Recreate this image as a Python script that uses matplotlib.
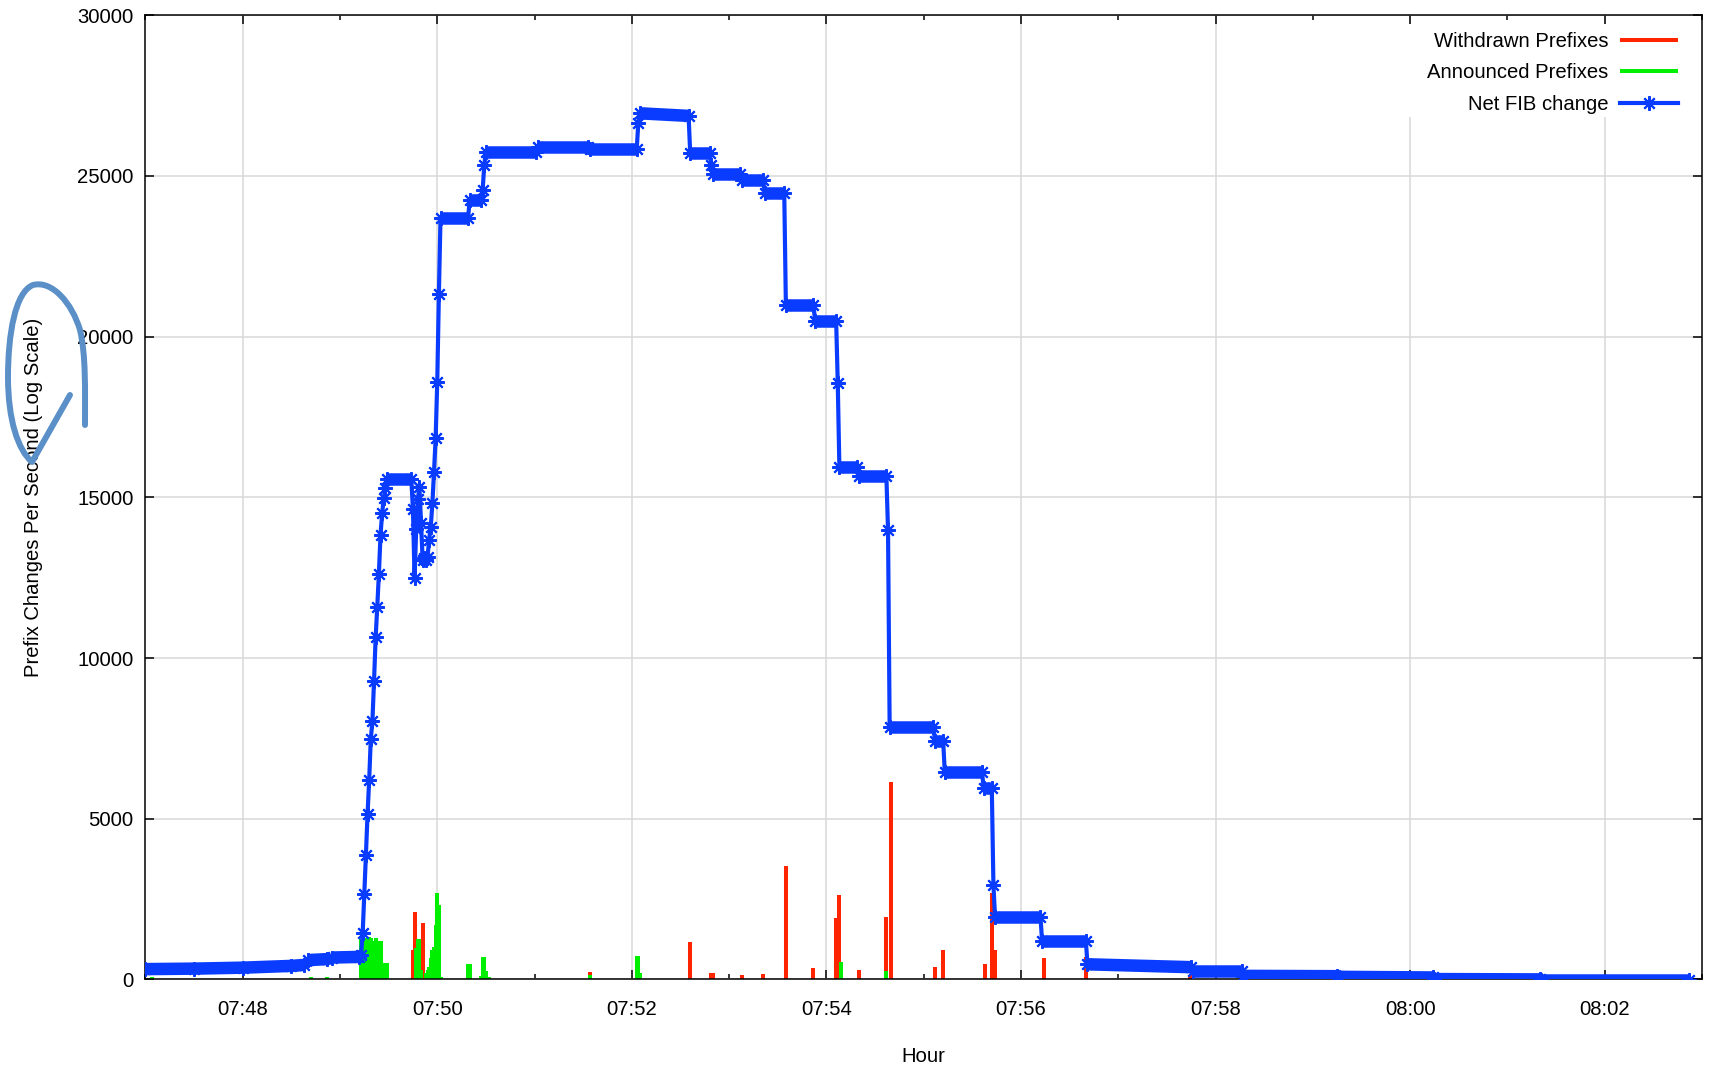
import matplotlib
matplotlib.use("Agg")
import matplotlib.pyplot as plt
import matplotlib.dates as mdates
from matplotlib.collections import LineCollection
from matplotlib.patches import PathPatch, Rectangle
from matplotlib.path import Path
import numpy as np
from datetime import datetime, timedelta

plt.rcParams['font.family'] = ['Liberation Sans', 'DejaVu Sans']
FS = 14.6
plt.rcParams['font.size'] = FS

start = datetime(2013, 1, 1, 7, 47, 0)

# Net FIB change (seconds after 07:47:00, prefixes)
fib_t = [0, 30, 60, 90, 98, 100, 112, 115, 132, 133, 134, 135, 136, 137, 138,
         139, 140, 141, 142, 143, 144, 145, 146, 147, 148, 149, 164, 165, 166,
         167, 168, 169, 170, 171, 172, 173, 174, 175, 176, 177, 178, 179, 180,
         181, 182, 199, 200, 207, 208, 209, 210, 241, 242, 273, 274, 303, 304,
         305, 335, 336, 348, 349, 350, 367, 368, 381, 382, 394, 395, 412, 413,
         426, 427, 428, 439, 440, 457, 458, 459, 486, 487, 492, 493, 516, 517,
         522, 523, 524, 552, 553, 580, 581, 645, 646, 676, 677, 735, 736, 794,
         795, 860, 861, 952]
fib_v = [320, 335, 365, 420, 450, 600, 630, 680, 700, 760, 1440, 2660, 3880,
         5140, 6190, 7480, 8030, 9280, 10640, 11600, 12620, 13830, 14500, 14970,
         15300, 15560, 15560, 14630, 12480, 14000, 14950, 15310, 14200, 13050,
         13100, 13050, 13150, 13680, 14090, 14820, 15800, 16840, 18600, 21330,
         23690, 23690, 24250, 24250, 24570, 25340, 25760, 25760, 25910, 25910,
         25830, 25830, 26650, 26950, 26870, 25710, 25710, 25350, 25060, 25060,
         24880, 24880, 24460, 24460, 20990, 20990, 20500, 20500, 18550, 15930,
         15930, 15650, 15650, 13970, 7840, 7840, 7430, 7430, 6440, 6440, 5950,
         5950, 2940, 1950, 1950, 1210, 1210, 470, 380, 270, 270, 110, 100, 80,
         60, 10, 0, -20, -20]

# Withdrawn prefixes per second
wd_t = [165, 166, 171, 274, 336, 349, 350, 368, 381, 395, 412, 426, 428, 440,
        457, 460, 487, 492, 518, 522, 524, 554, 580, 644]
wd_v = [920, 2110, 1770, 220, 1170, 200, 210, 150, 170, 3530, 370, 1900, 2620,
        290, 1930, 6150, 380, 920, 470, 2700, 920, 660, 700, 150]

# Announced prefixes per second
an_t = [4, 102, 112, 133, 134, 135, 136, 137, 138, 139, 140, 141, 142, 143,
        144, 145, 146, 147, 148, 149, 167, 168, 169, 170, 173, 174, 175, 176,
        177, 178, 179, 180, 181, 182, 199, 200, 207, 208, 209, 210, 212, 274,
        303, 304, 305, 429, 457]
an_v = [80, 85, 60, 1250, 1280, 1240, 1300, 1250, 1310, 1280, 1200, 1100, 1300,
        1190, 1150, 1190, 350, 250, 500, 500, 970, 1250, 1250, 300, 190, 300,
        400, 660, 920, 1020, 1690, 2680, 2320, 60, 480, 480, 100, 690, 690, 250,
        70, 150, 730, 730, 200, 550, 260]

RED = '#ff2400'
GREEN = '#00ee00'
BLUE = '#0a3cff'


def to_num(secs):
    return mdates.date2num([start + timedelta(seconds=s) for s in secs])


W, H = 1714, 1065
fig = plt.figure(figsize=(W / 100, H / 100), dpi=100)
ax = fig.add_axes([145.4 / W, 1 - 979.4 / H, 1556.6 / W, 964.1 / H])

ax.vlines(to_num(wd_t), 0, wd_v, colors=RED, lw=2.9, zorder=2,
          label='Withdrawn Prefixes')
ax.vlines(to_num(an_t), 0, an_v, colors=GREEN, lw=2.9, zorder=2.1,
          label='Announced Prefixes')

# blue series: long (held) segments drawn as thick band, like dense markers
x = to_num(fib_t)
y = np.array(fib_v, dtype=float)
pts = np.column_stack([x, y])
segs = np.stack([pts[:-1], pts[1:]], axis=1)
flat = np.diff(fib_t) > 2
ax.add_collection(LineCollection(segs[flat], colors=BLUE, linewidths=9.0,
                                 capstyle='butt', zorder=3))
line, = ax.plot(x, y, color=BLUE, lw=3.0, marker=(8, 2, 0), ms=10.5, mew=1.5,
                zorder=3.1, label='Net FIB change')

ax.set_xlim(to_num([0])[0], to_num([960])[0])
ax.set_ylim(0, 30000)
ax.set_yticks(np.arange(0, 30001, 5000))
ax.xaxis.set_major_locator(mdates.MinuteLocator(byminute=range(0, 60, 2)))
ax.xaxis.set_minor_locator(mdates.MinuteLocator())
ax.xaxis.set_major_formatter(mdates.DateFormatter('%H:%M'))

ax.set_axisbelow(True)
ax.grid(True, which='major', color='#d9d9d9', lw=1.1)
for s in ax.spines.values():
    s.set_linewidth(1.1)
ax.tick_params(which='both', direction='in', top=True, right=True, width=1.1)
ax.tick_params(which='major', length=6.5)
ax.tick_params(which='minor', length=3.6)
ax.tick_params(axis='x', pad=14.5, labelsize=FS)
ax.tick_params(axis='y', pad=8.5, labelsize=FS)

ax.set_xlabel('Hour', fontsize=FS)
ax.set_ylabel('Prefix Changes Per Second (Log Scale)', fontsize=FS)
ax.xaxis.set_label_coords(0.5, -0.0705)
ax.yaxis.set_label_coords(-0.066, 0.5)

# white key area hides the grid behind the legend
ax.add_patch(Rectangle((0.806, 0.8945), 0.2, 0.0965, transform=ax.transAxes,
                       facecolor='white', edgecolor='none', zorder=0.9))

handles, labels = ax.get_legend_handles_labels()
ax.legend(handles, labels, loc='upper right', bbox_to_anchor=(0.9846, 0.983),
          frameon=False, markerfirst=False, handlelength=2.85,
          handletextpad=0.6, labelspacing=0.62, borderaxespad=0, borderpad=0,
          numpoints=1, fontsize=FS)

# hand-drawn loop around the axis label (pixel coords of the image)
pix = [(70, 395), (32, 462),
       (18, 450), (8, 420), (8, 377),
       (8, 335), (15, 292), (33, 285),
       (52, 280), (72, 303), (80, 330),
       (86, 355), (85, 390), (85, 425)]
codes = [Path.MOVETO, Path.LINETO] + [Path.CURVE4] * 12
verts = [(px / W, 1 - py / H) for px, py in pix]
loop = PathPatch(Path(verts, codes), transform=fig.transFigure,
                 fill=False, edgecolor='#5b8fc8', lw=4.3,
                 capstyle='round', joinstyle='round')
fig.add_artist(loop)

fig.savefig('out.png', dpi=100)
